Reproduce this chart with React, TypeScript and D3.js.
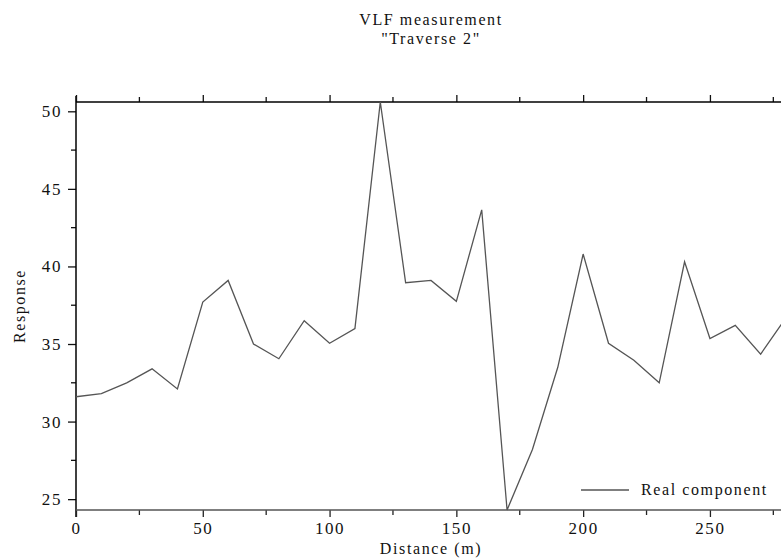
import React, { useEffect, useRef } from 'react';
import * as d3 from 'd3';

const distance = [0, 10, 20, 30, 40, 50, 60, 70, 80, 90, 100, 110, 120, 130, 140, 150, 160, 170, 180, 190, 200, 210, 220, 230, 240, 250, 260, 270, 280];
const realComponent = [31.6, 31.8, 32.5, 33.4, 32.1, 37.7, 39.1, 35.0, 34.05, 36.5, 35.05, 36.0, 50.6, 38.95, 39.1, 37.75, 43.65, 24.3, 28.2, 33.5, 40.8, 35.05, 33.95, 32.5, 40.3, 35.35, 36.2, 34.35, 36.7];

const xTicks = [0, 50, 100, 150, 200, 250];
const xMinorTicks = [25, 75, 125, 175, 225, 275];
const yTicks = [25, 30, 35, 40, 45, 50];
const yMinorTicks = [27.5, 32.5, 37.5, 42.5, 47.5];

const titleLines = ['VLF measurement', '"Traverse 2"'];
const xLabel = 'Distance (m)';
const yLabel = 'Response';
const legendLabel = 'Real component';

const width = 781;
const height = 558;
const margin = { top: 102, left: 76, bottom: 48 };
const font = 'Liberation Serif, DejaVu Serif, serif';

export default function App() {
  const ref = useRef<SVGSVGElement>(null);

  useEffect(() => {
    const svg = d3.select(ref.current);
    svg.selectAll('*').remove();

    const plotBottom = height - margin.bottom;
    const x = d3.scaleLinear()
      .domain([0, d3.max(distance) as number])
      .range([margin.left, margin.left + 710]);
    const y = d3.scaleLinear()
      .domain([d3.min(realComponent) as number, d3.max(realComponent) as number])
      .range([plotBottom, margin.top]);

    const textStyle = (sel: any) => sel
      .style('font-family', font)
      .style('font-size', '16px')
      .style('letter-spacing', '1.6px')
      .attr('fill', '#111');

    // title
    titleLines.forEach((t, i) => {
      svg.append('text')
        .attr('x', 431).attr('y', 25 + i * 19)
        .attr('text-anchor', 'middle')
        .call(textStyle)
        .text(t);
    });

    // left axis
    const gy = svg.append('g').attr('transform', `translate(${margin.left},0)`);
    gy.call(d3.axisLeft(y).tickValues(yTicks).tickSize(8).tickPadding(6).tickFormat(d3.format('d')));
    gy.select('.domain').remove();
    gy.selectAll('text').call(textStyle).style('font-size', '17px');
    gy.selectAll('.tick line').attr('stroke', '#111').attr('stroke-width', 1.3);
    gy.selectAll('.minor').data(yMinorTicks).enter().append('line')
      .attr('class', 'minor')
      .attr('x1', -5).attr('x2', 0)
      .attr('y1', d => y(d)).attr('y2', d => y(d))
      .attr('stroke', '#111').attr('stroke-width', 1.3);
    gy.append('line')
      .attr('x1', 0).attr('x2', 0)
      .attr('y1', margin.top - 6).attr('y2', plotBottom + 7)
      .attr('stroke', '#000').attr('stroke-width', 1.5);

    // bottom axis
    const gx = svg.append('g').attr('transform', `translate(0,${plotBottom})`);
    gx.call(d3.axisBottom(x).tickValues(xTicks).tickSize(7).tickPadding(5).tickFormat(d3.format('d')));
    gx.select('.domain').remove();
    gx.selectAll('text').call(textStyle).style('font-size', '17px');
    gx.selectAll('.tick line').attr('stroke', '#222').attr('stroke-width', 1.3);
    gx.selectAll('.minor').data(xMinorTicks).enter().append('line')
      .attr('class', 'minor')
      .attr('x1', d => x(d)).attr('x2', d => x(d))
      .attr('y1', 0).attr('y2', 5)
      .attr('stroke', '#222').attr('stroke-width', 1.3);
    gx.append('line')
      .attr('x1', margin.left).attr('x2', width)
      .attr('y1', 0).attr('y2', 0)
      .attr('stroke', '#555').attr('stroke-width', 1.5);

    // top axis
    const gt = svg.append('g').attr('transform', `translate(0,${margin.top})`);
    gt.call(d3.axisTop(x).tickValues(xTicks).tickSize(7).tickFormat(() => ''));
    gt.select('.domain').remove();
    gt.selectAll('.tick line').attr('stroke', '#111').attr('stroke-width', 1.3);
    gt.selectAll('.minor').data(xMinorTicks).enter().append('line')
      .attr('class', 'minor')
      .attr('x1', d => x(d)).attr('x2', d => x(d))
      .attr('y1', 0).attr('y2', -5)
      .attr('stroke', '#111').attr('stroke-width', 1.3);
    gt.append('line')
      .attr('x1', margin.left).attr('x2', width)
      .attr('y1', 0).attr('y2', 0)
      .attr('stroke', '#000').attr('stroke-width', 1.5);

    // data line
    const line = d3.line<number>()
      .x((d, i) => x(distance[i]))
      .y(d => y(d));
    svg.append('path')
      .datum(realComponent)
      .attr('d', line)
      .attr('fill', 'none')
      .attr('stroke', '#555')
      .attr('stroke-width', 1.3)
      .attr('stroke-linejoin', 'miter');

    // axis labels
    svg.append('text')
      .attr('x', 431).attr('y', 554)
      .attr('text-anchor', 'middle')
      .call(textStyle)
      .text(xLabel);
    svg.append('text')
      .attr('transform', `translate(25,${(margin.top + plotBottom) / 2}) rotate(-90)`)
      .attr('text-anchor', 'middle')
      .call(textStyle)
      .text(yLabel);

    // legend
    svg.append('line')
      .attr('x1', 581).attr('x2', 629)
      .attr('y1', 490).attr('y2', 490)
      .attr('stroke', '#555').attr('stroke-width', 1.3);
    svg.append('text')
      .attr('x', 641).attr('y', 495)
      .call(textStyle)
      .text(legendLabel);
  }, []);

  return (
    <svg ref={ref} width={width} height={height}
      style={{ position: 'absolute', left: 0, top: 0, background: '#fff', overflow: 'hidden' }} />
  );
}
